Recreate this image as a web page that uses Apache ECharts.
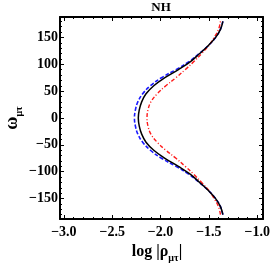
<!DOCTYPE html>
<html><head><meta charset="utf-8">
<script src="https://cdn.jsdelivr.net/npm/echarts@6/dist/echarts.min.js"></script>
<style>html,body{margin:0;padding:0;background:#fff}#c{width:273px;height:266px}</style>
</head><body><div id="c"></div>
<script>
// omega (degrees) sampled along each curve
const omega = [-180,-165,-150,-135,-120,-105,-90,-75,-60,-45,-30,-15,0,15,30,45,60,75,90,105,120,135,150,165,180];
// log|rho_mu tau|
const blackSolid = [-1.355,-1.38,-1.43,-1.505,-1.595,-1.69,-1.815,-1.955,-2.07,-2.15,-2.195,-2.22,-2.23,-2.22,-2.195,-2.15,-2.07,-1.955,-1.815,-1.69,-1.595,-1.505,-1.43,-1.38,-1.355];
const blueDashed = [-1.355,-1.38,-1.43,-1.505,-1.60,-1.705,-1.84,-1.99,-2.105,-2.185,-2.235,-2.26,-2.27,-2.26,-2.235,-2.185,-2.105,-1.99,-1.84,-1.705,-1.60,-1.505,-1.43,-1.38,-1.355];
const redDotDash = [-1.38,-1.40,-1.445,-1.50,-1.575,-1.655,-1.745,-1.84,-1.945,-2.035,-2.10,-2.13,-2.14,-2.13,-2.10,-2.035,-1.945,-1.84,-1.745,-1.655,-1.575,-1.50,-1.445,-1.40,-1.38];

const xMajorTicks = [-3.0,-2.5,-2.0,-1.5,-1.0];
const xMinorTicks = [-3.0,-2.9,-2.8,-2.7,-2.6,-2.5,-2.4,-2.3,-2.2,-2.1,-2.0,-1.9,-1.8,-1.7,-1.6,-1.5,-1.4,-1.3,-1.2,-1.1,-1.0];
const yMajorTicks = [-150,-100,-50,0,50,100,150];
const yMinorTicks = [-180,-170,-160,-150,-140,-130,-120,-110,-100,-90,-80,-70,-60,-50,-40,-30,-20,-10,0,10,20,30,40,50,60,70,80,90,100,110,120,130,140,150,160,170,180];

const XMIN = -3.04, XMAX = -0.94, YMIN = -188, YMAX = 188;
const FONT = 'Liberation Serif';
const minus = s => String(s).replace('-', '\u2212');

function pairs(vals){ return vals.map((v,i)=>[v, omega[i]]); }

const gridRect = {left:60, right:10, top:17, bottom:47};
const lineCol = '#000';
function xAx(grid, pos, ticks, len, labels, showLine){
  return {type:'value', gridIndex:grid, position:pos, min:XMIN, max:XMAX,
    axisLine:{show:showLine, onZero:false, lineStyle:{color:lineCol, width:2}},
    axisTick:{show:true, inside:true, length:len, customValues:ticks, lineStyle:{color:lineCol, width:1}},
    axisLabel:labels ? {show:true, customValues:ticks, formatter:v=>minus(v.toFixed(1)), color:'#000', fontFamily:FONT, fontWeight:'bold', fontSize:14, margin:6} : {show:false},
    splitLine:{show:false}};
}
function yAx(grid, pos, ticks, len, labels, showLine){
  return {type:'value', gridIndex:grid, position:pos, min:YMIN, max:YMAX,
    axisLine:{show:showLine, onZero:false, lineStyle:{color:lineCol, width:2}},
    axisTick:{show:true, inside:true, length:len, customValues:ticks, lineStyle:{color:lineCol, width:1}},
    axisLabel:labels ? {show:true, customValues:ticks, formatter:v=>minus(Math.round(v)), color:'#000', fontFamily:FONT, fontWeight:'bold', fontSize:14, margin:2} : {show:false},
    splitLine:{show:false}};
}

const chart = echarts.init(document.getElementById('c'), null, {renderer:'canvas'});
chart.setOption({
  animation:false,
  backgroundColor:'#fff',
  grid:[Object.assign({}, gridRect), Object.assign({}, gridRect)],
  xAxis:[
    xAx(0,'bottom',xMajorTicks,4,true,true),
    xAx(0,'top',xMajorTicks,4,false,true),
    xAx(1,'bottom',xMinorTicks,2,false,false),
    xAx(1,'top',xMinorTicks,2,false,false)
  ],
  yAxis:[
    yAx(0,'left',yMajorTicks,4,true,true),
    yAx(0,'right',yMajorTicks,4,false,true),
    yAx(1,'left',yMinorTicks,2,false,false),
    yAx(1,'right',yMinorTicks,2,false,false)
  ],
  series:[
    {type:'line', xAxisIndex:0, yAxisIndex:0, data:pairs(blueDashed), smooth:0.4, showSymbol:false,
     lineStyle:{color:'#1a1aff', width:1.6, type:[4,2]}},
    {type:'line', xAxisIndex:0, yAxisIndex:0, data:pairs(redDotDash), smooth:0.4, showSymbol:false,
     lineStyle:{color:'#ff1a1a', width:1.4, type:[4,2,1,2]}},
    {type:'line', xAxisIndex:0, yAxisIndex:0, data:pairs(blackSolid), smooth:0.4, showSymbol:false,
     lineStyle:{color:'#000', width:1.5}}
  ],
  graphic:[
    {type:'text', x:161, y:8, style:{text:'NH', font:'bold 13px "Liberation Serif"', fill:'#000', align:'center', verticalAlign:'middle'}},
    {type:'text', x:157, y:252, style:{
      text:'{a|log |ρ}{s|μτ}{a||}', align:'center', verticalAlign:'middle',
      rich:{a:{fontFamily:FONT, fontWeight:'bold', fontSize:16, fill:'#000', verticalAlign:'bottom'},
            s:{fontFamily:FONT, fontWeight:'bold', fontSize:10, fill:'#000', verticalAlign:'bottom', padding:[0,0,-3,0]}}}},
    {type:'text', x:12, y:118, rotation:Math.PI/2, style:{
      text:'{a|ω}{s|μτ}', align:'center', verticalAlign:'middle',
      rich:{a:{fontFamily:FONT, fontWeight:'bold', fontSize:18, fill:'#000', verticalAlign:'bottom'},
            s:{fontFamily:FONT, fontWeight:'bold', fontSize:10, fill:'#000', verticalAlign:'bottom', padding:[0,0,-3,0]}}}}
  ]
});
</script></body></html>
